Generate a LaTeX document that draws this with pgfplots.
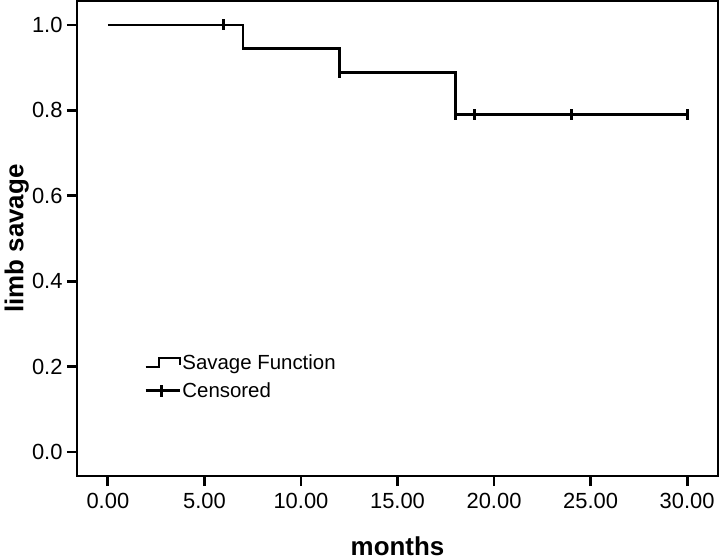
\documentclass[border=0pt]{standalone}
\usepackage{pgfplots}
\pgfplotsset{compat=1.18}
\usepackage{fontspec}
\setmainfont{Liberation Sans}
\begin{document}
\begin{tikzpicture}
\begin{axis}[
  scale only axis,
  width=641bp, height=475bp,
  xmin=-1.6, xmax=31.6,
  ymin=-0.056, ymax=1.056,
  xtick={0,5,10,15,20,25,30},
  ytick={0,0.2,0.4,0.6,0.8,1.0},
  axis line style={line width=2.8bp},
  tick style={line width=2.8bp, black},
  major tick length=10bp,
  tick align=outside,
  xtick pos=bottom, ytick pos=left,
  x tick label style={/pgf/number format/fixed, /pgf/number format/fixed zerofill, /pgf/number format/precision=2, /pgf/number format/assume math mode=true, yshift=-4bp},
  y tick label style={/pgf/number format/fixed, /pgf/number format/fixed zerofill, /pgf/number format/precision=1, /pgf/number format/assume math mode=true, xshift=-1bp},
  ticklabel style={font=\fontsize{22}{26}\selectfont},
  xlabel={months}, ylabel={limb savage},
  xlabel style={font=\fontsize{26}{31}\selectfont\bfseries, at={(axis description cs:0.5,-0.147)}, anchor=center},
  ylabel style={font=\fontsize{26}{31}\selectfont\bfseries, at={(axis description cs:-0.094,0.5)}, anchor=center},
  legend style={at={(0.105,0.258)}, anchor=north west, draw=none, fill=none,
    font=\fontsize{20.5}{24}\selectfont, row sep=8bp, inner sep=0pt,
    nodes={inner sep=1.5bp}},
  legend cell align=left,
]
\addplot[const plot, line width=2.8bp, black, mark=none,
  legend image code/.code={\draw[line width=2.4bp] (0bp,-4bp) -- (13bp,-4bp) -- (13bp,5bp) -- (34bp,5bp) -- (34bp,-2bp);}]
  coordinates {(0,1.0) (7,0.944) (12,0.889) (18,0.790) (30,0.790)};
\addlegendentry{Savage Function}
\addplot[only marks, black, mark=|, mark size=5.5bp, mark options={line width=3.2bp},
  legend image code/.code={\draw[line width=2.4bp] (0bp,0bp) -- (34bp,0bp); \draw[line width=3bp] (16bp,-6bp) -- (16bp,6bp);}]
  coordinates {(6,1.0) (12,0.889) (18,0.790) (19,0.790) (24,0.790) (30,0.790)};
\addlegendentry{Censored}
\coordinate (bl) at (rel axis cs:0,0);
\coordinate (tr) at (rel axis cs:1,1);
\end{axis}
\pgfresetboundingbox
\path ([shift={(-77bp,-83bp)}]bl) rectangle ([shift={(3bp,1bp)}]tr);
\end{tikzpicture}
\end{document}
